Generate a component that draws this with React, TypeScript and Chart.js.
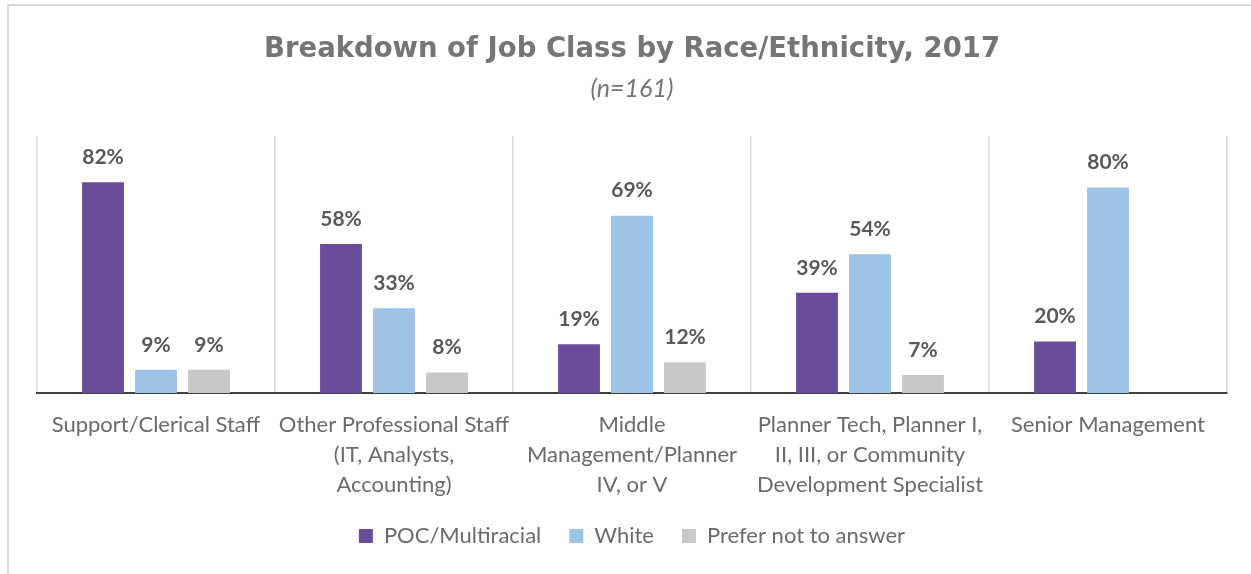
import React, { useEffect, useRef } from "react";
import { Chart, registerables } from "chart.js";

Chart.register(...registerables);

const categories: string[][] = [
  ["Support/Clerical Staff"],
  ["Other Professional Staff", "(IT, Analysts,", "Accounting)"],
  ["Middle", "Management/Planner", "IV, or V"],
  ["Planner Tech, Planner I,", "II, III, or Community", "Development Specialist"],
  ["Senior Management"],
];

const pocValues: (number | null)[] = [82, 58, 19, 39, 20];
const whiteValues: (number | null)[] = [9, 33, 69, 54, 80];
const preferNotValues: (number | null)[] = [9, 8, 12, 7, null];

const seriesNames = ["POC/Multiracial", "White", "Prefer not to answer"];
const seriesColors = ["#6A4C9C", "#9DC3E6", "#C8C8C8"];

const FONT = "Lato";
const TITLE_FONT = "'DejaVu Sans'";

const dataLabelPlugin = {
  id: "dataLabels",
  afterDatasetsDraw(chart: any) {
    const ctx = chart.ctx;
    ctx.save();
    ctx.font = `bold 21px ${FONT}`;
    ctx.fillStyle = "#595959";
    ctx.textAlign = "center";
    ctx.textBaseline = "middle";
    chart.data.datasets.forEach((ds: any, i: number) => {
      const meta = chart.getDatasetMeta(i);
      meta.data.forEach((el: any, j: number) => {
        const v = ds.data[j];
        if (v === null || v === undefined) return;
        ctx.fillText(`${v}%`, el.x, el.y - 25);
      });
    });
    ctx.restore();
  },
};

export default function App() {
  const ref = useRef<HTMLCanvasElement | null>(null);
  useEffect(() => {
    if (!ref.current) return;
    const chart = new Chart(ref.current, {
      type: "bar",
      data: {
        labels: categories,
        datasets: [
          { label: seriesNames[0], data: pocValues, backgroundColor: seriesColors[0] },
          { label: seriesNames[1], data: whiteValues, backgroundColor: seriesColors[1] },
          { label: seriesNames[2], data: preferNotValues, backgroundColor: seriesColors[2] },
        ],
      },
      options: {
        responsive: false,
        animation: false,
        datasets: { bar: { categoryPercentage: 0.668, barPercentage: 0.79 } },
        layout: { padding: { left: 37, right: 24, top: 0, bottom: 17 } },
        scales: {
          x: {
            afterFit: (scale: any) => {
              scale.height = 104;
            },
            grid: { display: true, offset: true, color: "#D9D9D9", lineWidth: 1.5, drawTicks: false },
            border: { display: true, color: "#404040", width: 2 },
            ticks: {
              autoSkip: false,
              maxRotation: 0,
              minRotation: 0,
              padding: 17,
              color: "#6B6B6B",
              font: { family: FONT, size: 22, lineHeight: 30 / 22 },
            },
          },
          y: { display: false, min: 0, max: 100 },
        },
        plugins: {
          title: {
            display: true,
            text: "Breakdown of Job Class by Race/Ethnicity, 2017",
            color: "#757575",
            font: { family: TITLE_FONT, size: 27.5, weight: "bold", lineHeight: 1.2 },
            padding: { top: 33, bottom: 4 },
          },
          subtitle: {
            display: true,
            text: "(n=161)",
            color: "#757575",
            font: { family: FONT, size: 25, style: "italic" },
            padding: { top: 4, bottom: 32 },
          },
          legend: {
            position: "bottom",
            labels: {
              color: "#6B6B6B",
              font: { family: FONT, size: 22 },
              boxWidth: 14,
              boxHeight: 14,
              padding: 28,
            },
          },
          tooltip: { enabled: false },
        },
      },
      plugins: [dataLabelPlugin],
    });
    return () => chart.destroy();
  }, []);

  return (
    <div style={{ position: "absolute", left: 0, top: 0, width: 1251, height: 574, background: "#fff", overflow: "hidden" }}>
      <div
        style={{
          position: "absolute",
          left: 7,
          top: 4,
          width: 1400,
          height: 700,
          borderLeft: "2px solid #D9D9D9",
          borderTop: "2px solid #D9D9D9",
        }}
      />
      <canvas ref={ref} width={1251} height={574} style={{ position: "absolute", left: 0, top: 0, display: "block" }} />
    </div>
  );
}
